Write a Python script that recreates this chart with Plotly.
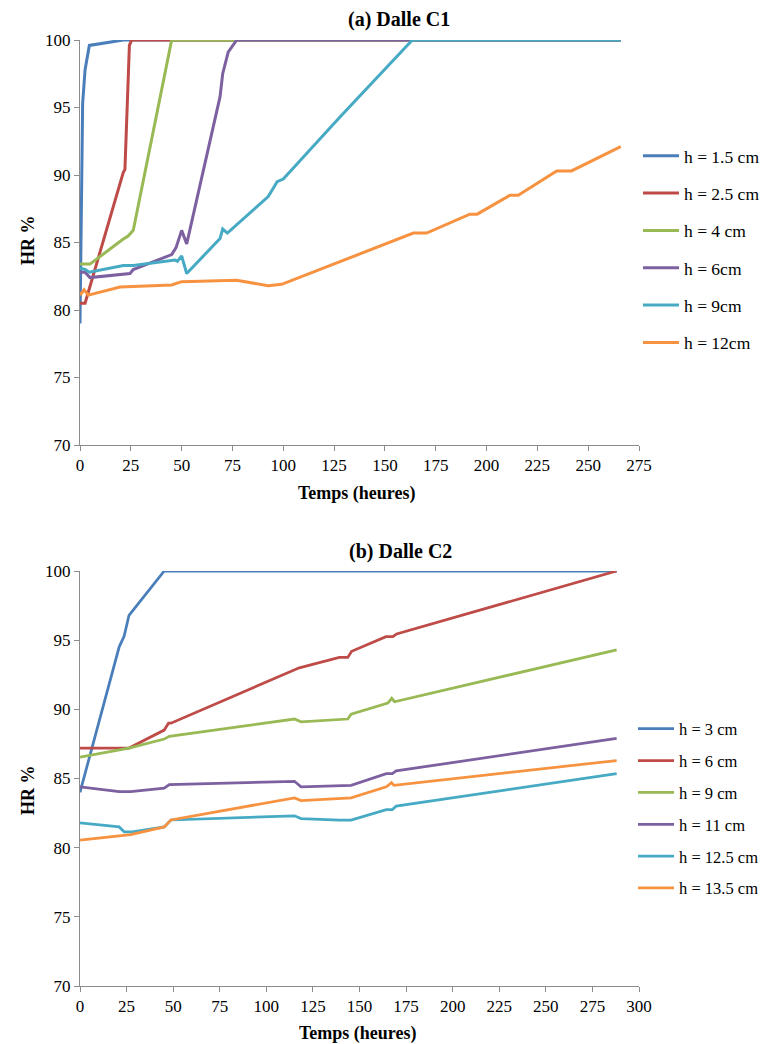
import plotly.graph_objects as go

# ---------------- Data: (a) Dalle C1 ----------------
c1_labels = ["h = 1.5 cm", "h = 2.5 cm", "h = 4 cm", "h = 6cm", "h = 9cm", "h = 12cm"]

c1_t_15 = [0, 1.3, 2.5, 4.6, 21.3, 266]
c1_hr_15 = [79.0, 95.3, 97.8, 99.6, 100, 100]

c1_t_25 = [0, 2.5, 21.3, 22.1, 24.3, 25.4, 266]
c1_hr_25 = [80.5, 80.5, 90.2, 90.4, 99.6, 100, 100]

c1_t_4 = [0, 4.9, 20.8, 23.8, 26.2, 45.1, 266]
c1_hr_4 = [83.4, 83.4, 85.2, 85.5, 85.9, 100, 100]

c1_t_6 = [0, 2.5, 4.9, 24.6, 26.2, 45.1, 47.2, 50.0, 52.5, 68.9, 70.2, 72.9, 77.1, 266]
c1_hr_6 = [82.8, 82.8, 82.4, 82.7, 83.0, 84.1, 84.6, 85.9, 84.9, 95.8, 97.5, 99.1, 100, 100]

c1_t_9 = [0, 2.5, 4.6, 21.3, 26.2, 46.7, 47.9, 50.0, 52.5, 68.9, 70.2, 72.5, 92.6, 97.0,
          100, 127.9, 163.5, 266]
c1_hr_9 = [83.1, 83.0, 82.8, 83.3, 83.3, 83.7, 83.6, 84.0, 82.7, 85.3, 86.0, 85.7, 88.4, 89.5,
           89.7, 94.3, 100, 100]

c1_t_12 = [0, 2.0, 4.1, 19.7, 45.1, 50.0, 77.1, 92.6, 99.2, 164.0, 170.5, 191.8, 195.4,
           211.5, 215.6, 234.5, 241.8, 266]
c1_hr_12 = [81.1, 81.5, 81.1, 81.7, 81.85, 82.1, 82.2, 81.8, 81.9, 85.7, 85.7, 87.1, 87.1,
            88.5, 88.5, 90.3, 90.3, 92.1]

# ---------------- Data: (b) Dalle C2 ----------------
c2_labels = ["h = 3 cm", "h = 6 cm", "h = 9 cm", "h = 11 cm", "h = 12.5 cm", "h = 13.5 cm"]

c2_t_3 = [0, 21.0, 23.7, 26.3, 45.2, 288]
c2_hr_3 = [84.0, 94.5, 95.3, 96.8, 100, 100]

c2_t_6 = [0, 26.3, 45.2, 47.5, 48.8, 117.7, 139.2, 143.7, 145.8, 164.2, 167.9, 169.9, 288]
c2_hr_6 = [87.2, 87.2, 88.5, 89.0, 89.0, 93.0, 93.75, 93.75, 94.2, 95.25, 95.25, 95.45, 100]

c2_t_9 = [0, 26.3, 45.2, 47.9, 115.1, 118.6, 143.7, 145.5, 165.2, 167.3, 168.8, 288]
c2_hr_9 = [86.55, 87.2, 87.85, 88.05, 89.3, 89.1, 89.3, 89.65, 90.45, 90.8, 90.55, 94.3]

c2_t_11 = [0, 21.0, 27.2, 45.2, 47.9, 115.1, 118.6, 145.5, 164.4, 167.6, 169.7, 288]
c2_hr_11 = [84.4, 84.05, 84.05, 84.3, 84.55, 84.8, 84.4, 84.5, 85.35, 85.35, 85.55, 87.9]

c2_t_125 = [0, 21.0, 23.7, 28.1, 45.2, 48.8, 115.1, 118.6, 139.2, 145.5, 164.4, 167.6, 169.7, 288]
c2_hr_125 = [81.8, 81.5, 81.15, 81.15, 81.5, 82.0, 82.3, 82.1, 82.0, 82.0, 82.75, 82.75, 83.0, 85.35]

c2_t_135 = [0, 27.2, 45.2, 48.8, 115.1, 118.6, 145.5, 164.4, 167.2, 168.5, 288]
c2_hr_135 = [80.55, 80.95, 81.5, 82.0, 83.6, 83.4, 83.6, 84.4, 84.7, 84.5, 86.3]

colors = ["#4A7EBB", "#BE4B48", "#98B954", "#7D60A0", "#46AAC5", "#F69240"]

c1_series = [(c1_t_15, c1_hr_15), (c1_t_25, c1_hr_25), (c1_t_4, c1_hr_4),
             (c1_t_6, c1_hr_6), (c1_t_9, c1_hr_9), (c1_t_12, c1_hr_12)]
c2_series = [(c2_t_3, c2_hr_3), (c2_t_6, c2_hr_6), (c2_t_9, c2_hr_9),
             (c2_t_11, c2_hr_11), (c2_t_125, c2_hr_125), (c2_t_135, c2_hr_135)]

FONT = "Liberation Serif, Times New Roman, Times, serif"
OFF = 8  # page body margin offset
W, H = 769 - OFF, 1044 - OFF
ML, MR, MT = 80 - OFF, 130, 40 - OFF
MB = H - (986 - OFF)
PW, PH = W - ML - MR, H - MT - MB


def px_x(x):
    return (x - OFF - ML) / PW


def px_y(y):
    return (H - MB - (y - OFF)) / PH


fig = go.Figure()

for i, ((t, v), name) in enumerate(zip(c1_series, c1_labels)):
    fig.add_trace(go.Scatter(x=t, y=v, mode="lines", name=name,
                             line=dict(color=colors[i], width=3),
                             xaxis="x", yaxis="y", legend="legend",
                             legendgroup="a%d" % i))

for i, ((t, v), name) in enumerate(zip(c2_series, c2_labels)):
    fig.add_trace(go.Scatter(x=t, y=v, mode="lines", name=name,
                             line=dict(color=colors[i], width=2.75),
                             xaxis="x2", yaxis="y2", legend="legend2",
                             legendgroup="b%d" % i))

axis_common = dict(showline=True, linecolor="#8C8C8C", linewidth=1, ticks="outside",
                   ticklen=5, tickcolor="#8C8C8C", showgrid=False, zeroline=False,
                   tickfont=dict(family=FONT, size=17, color="#000000"), automargin=False)

top_dom = [1 - 405 / PH, 1]
bot_dom = [0, 1 - 531 / PH]

fig.update_layout(
    width=W, height=H,
    margin=dict(l=ML, r=MR, t=MT, b=MB, autoexpand=False),
    paper_bgcolor="white", plot_bgcolor="white",
    showlegend=True,
    xaxis=dict(domain=[0, 1], range=[0, 275], dtick=25, tick0=0, anchor="y", **axis_common),
    yaxis=dict(domain=top_dom, range=[70, 100], dtick=5, tick0=70, anchor="x", **axis_common),
    xaxis2=dict(domain=[0, 1], range=[0, 300], dtick=25, tick0=0, anchor="y2", **axis_common),
    yaxis2=dict(domain=bot_dom, range=[70, 100], dtick=5, tick0=70, anchor="x2", **axis_common),
    legend=dict(x=px_x(638), y=px_y(137.8), xanchor="left", yanchor="top",
                font=dict(family=FONT, size=17.5, color="#000000"),
                tracegroupgap=11.6, traceorder="grouped", itemwidth=36,
                bgcolor="rgba(0,0,0,0)"),
    legend2=dict(x=px_x(633), y=px_y(711.5), xanchor="left", yanchor="top",
                 font=dict(family=FONT, size=16.5, color="#000000"),
                 tracegroupgap=7.4, traceorder="grouped", itemwidth=36,
                 bgcolor="rgba(0,0,0,0)"),
)

title_font = dict(family=FONT, size=20, color="#000000")
axt_font = dict(family=FONT, size=18, color="#000000")
annots = [
    dict(text="<b>(a) Dalle C1</b>", x=px_x(399), y=px_y(20), font=title_font),
    dict(text="<b>(b) Dalle C2</b>", x=px_x(400), y=px_y(551), font=title_font),
    dict(text="<b>HR %</b>", x=px_x(28), y=px_y(240), textangle=-90, font=axt_font),
    dict(text="<b>HR %</b>", x=px_x(28), y=px_y(790), textangle=-90, font=axt_font),
    dict(text="<b>Temps (heures)</b>", x=px_x(357), y=px_y(493), font=axt_font),
    dict(text="<b>Temps (heures)</b>", x=px_x(358), y=px_y(1033), font=axt_font),
]
for a in annots:
    a.update(xref="paper", yref="paper", showarrow=False, xanchor="center", yanchor="middle")
    fig.add_annotation(**a)

fig.write_html("out.html")
